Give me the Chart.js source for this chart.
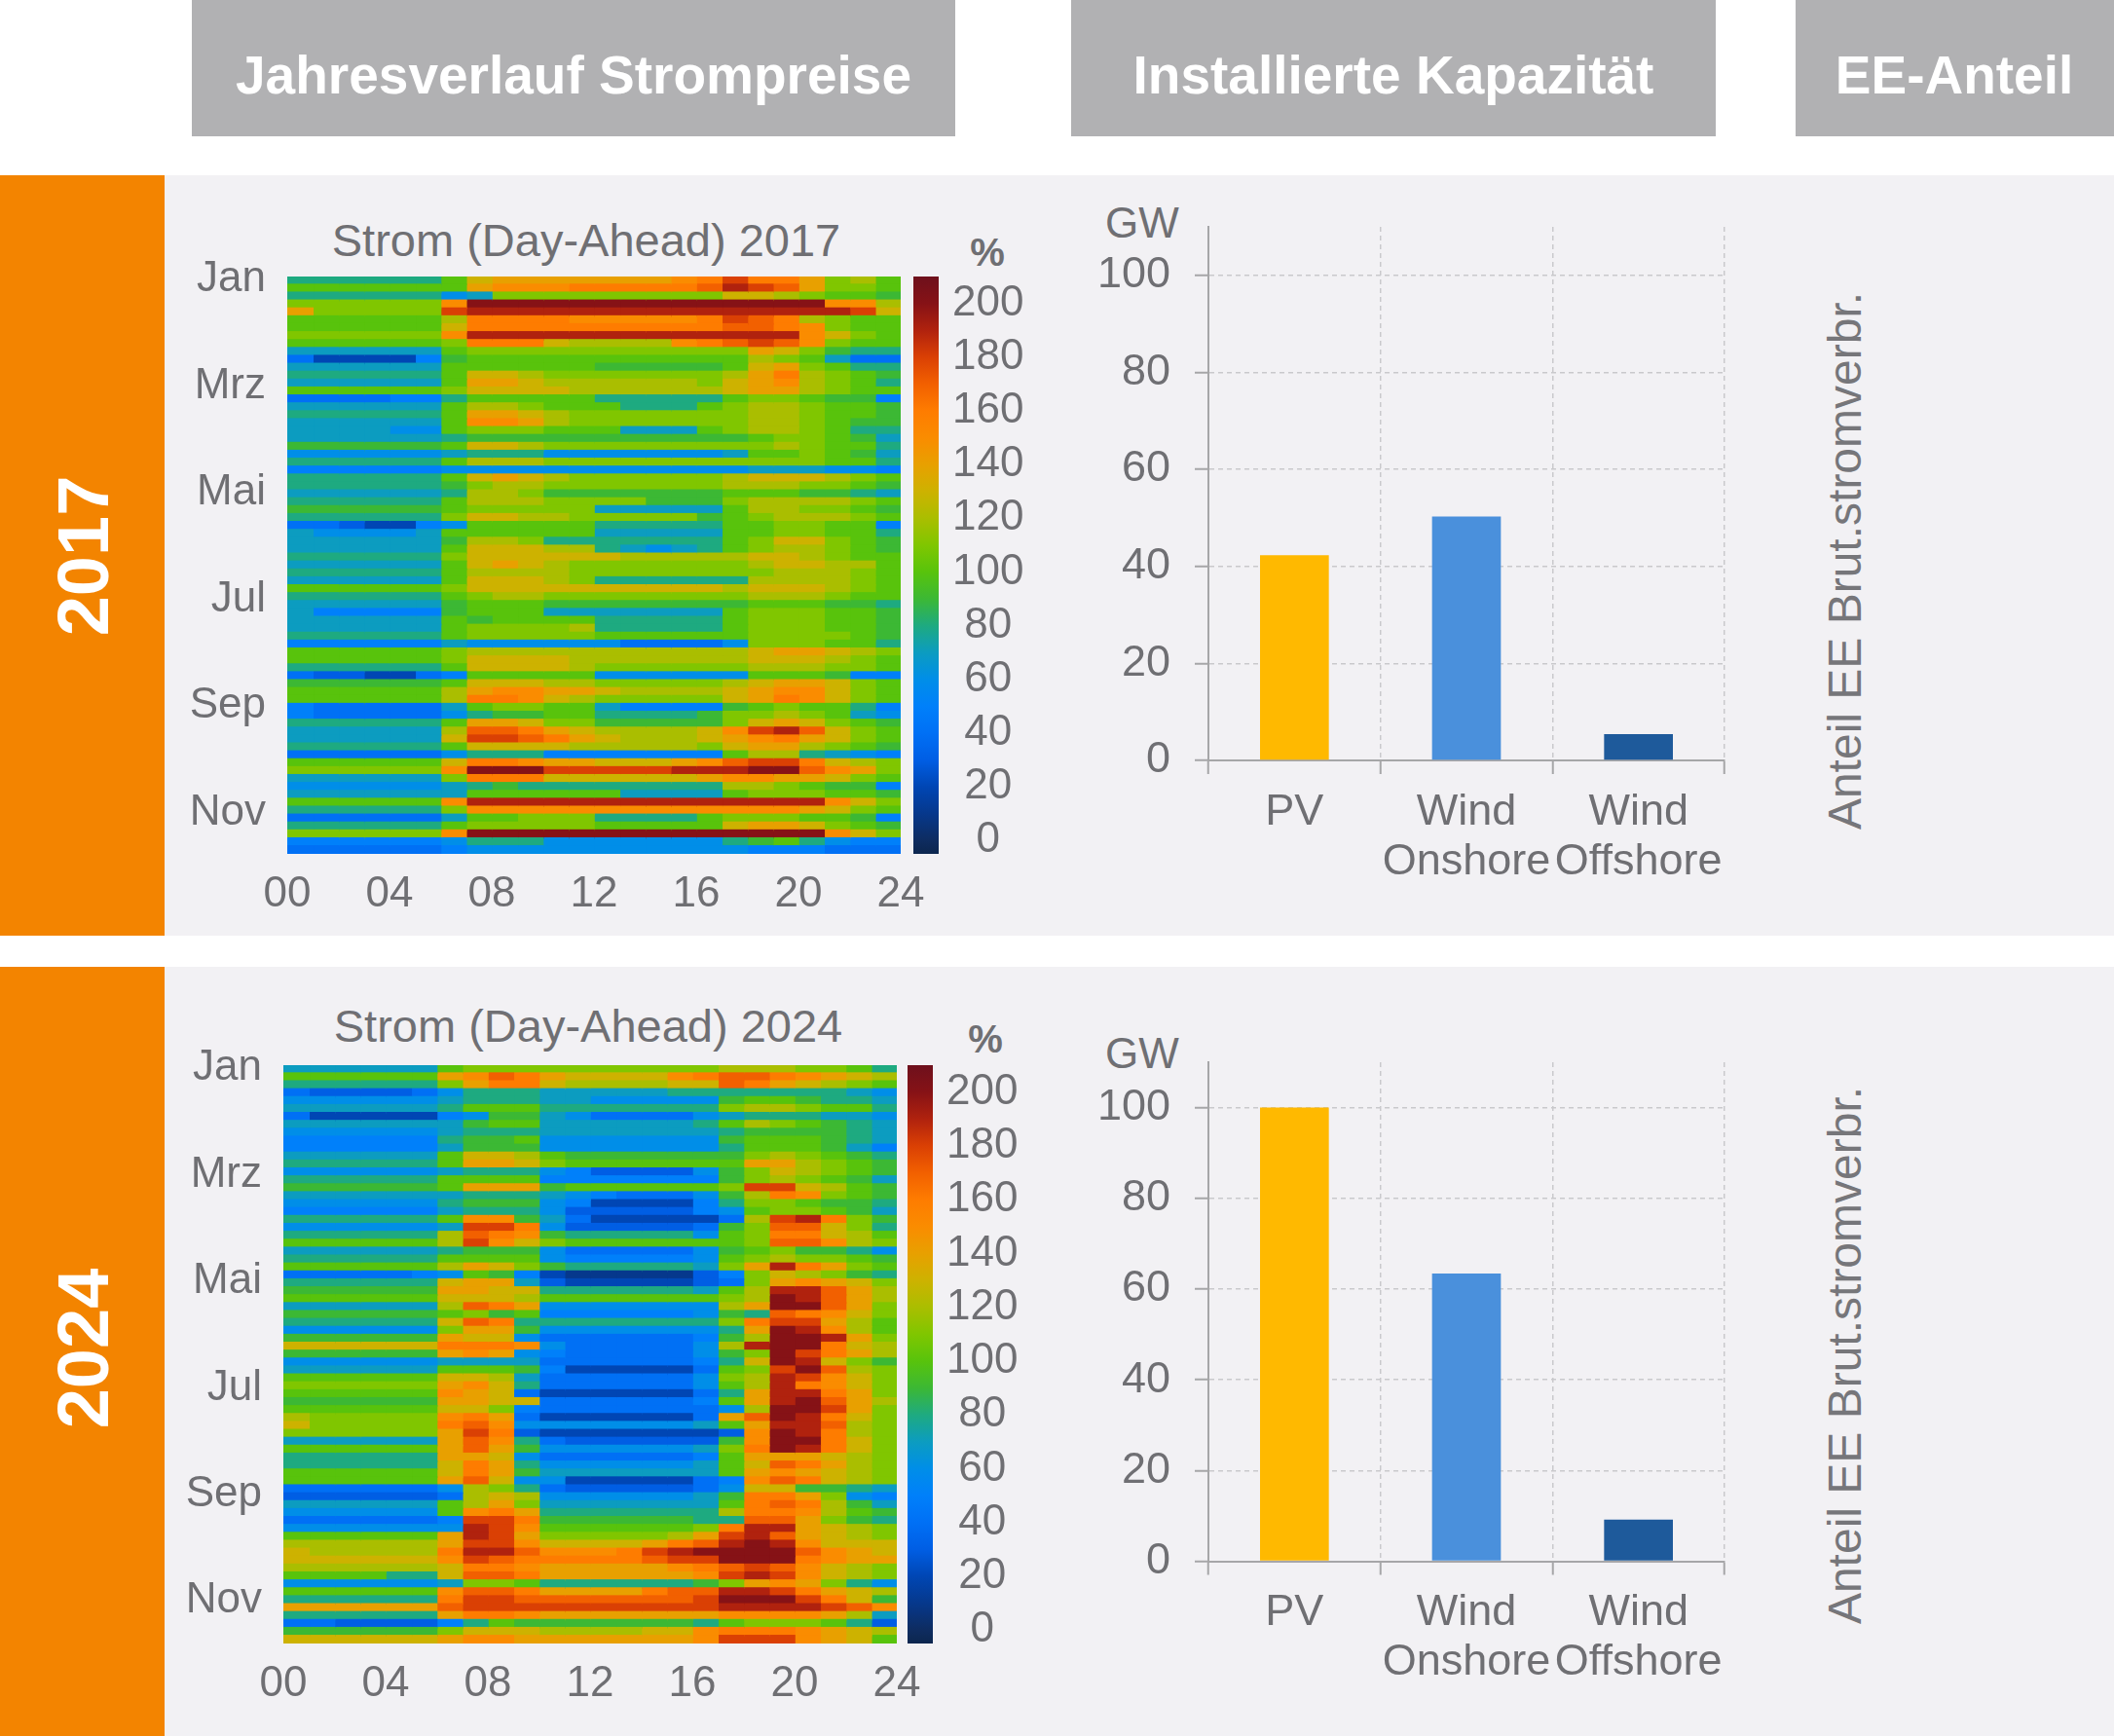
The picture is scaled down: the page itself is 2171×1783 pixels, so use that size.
<!DOCTYPE html>
<html><head><meta charset="utf-8">
<script src="https://cdn.jsdelivr.net/npm/chart.js@4.4.1/dist/chart.umd.min.js"></script>
<style>
html,body{margin:0;padding:0}
body{width:2171px;height:1783px;position:relative;background:#fff;font-family:"Liberation Sans",Arial,sans-serif;overflow:hidden}
.hdr{position:absolute;top:0;height:140px;background:#b1b1b3}
.side{position:absolute;left:0;width:169px;background:#f38400}
.panel{position:absolute;left:169px;width:2002px;background:#f2f1f4}
.txt{position:absolute;white-space:nowrap;transform:translate(-50%,-50%);color:#6f6f73;line-height:1.15}
.rot{transform:translate(-50%,-50%) rotate(-90deg)}
canvas{position:absolute;display:block}
</style>
</head><body>

<div class="hdr" style="left:197px;width:784px"></div>
<div class="hdr" style="left:1100px;width:662px"></div>
<div class="hdr" style="left:1844px;width:327px"></div>
<div class="txt" style="left:589px;top:78px;color:#fff;font-weight:bold;font-size:55px">Jahresverlauf Strompreise</div>
<div class="txt" style="left:1431px;top:78px;color:#fff;font-weight:bold;font-size:55px">Installierte Kapazität</div>
<div class="txt" style="left:2007px;top:78px;color:#fff;font-weight:bold;font-size:55px">EE-Anteil</div>

<div class="side" style="top:180px;height:781px"></div>
<div class="panel" style="top:180px;height:781px"></div>
<div class="side" style="top:993px;height:790px"></div>
<div class="panel" style="top:993px;height:790px"></div>

<div id="year0" class="txt rot" style="left:86px;top:571px;color:#fff;font-weight:bold;font-size:74px"></div>
<div id="year1" class="txt rot" style="left:86px;top:1385px;color:#fff;font-weight:bold;font-size:74px"></div>

<div id="title0" class="txt" style="left:602px;top:247px;font-size:47px"></div>
<div id="title1" class="txt" style="left:604px;top:1054px;font-size:47px"></div>

<div class="txt" style="left:1014px;top:259px;font-size:40px;font-weight:bold">%</div>
<div class="txt" style="left:1012px;top:1067px;font-size:40px;font-weight:bold">%</div>

<div class="txt" style="left:1173px;top:229px;font-size:44px">GW</div>
<div class="txt" style="left:1173px;top:1082px;font-size:44px">GW</div>

<div class="txt rot" style="left:1895px;top:576px;font-size:48px;color:#76767a">Anteil EE Brut.stromverbr.</div>
<div class="txt rot" style="left:1895px;top:1392px;font-size:48px;color:#76767a">Anteil EE Brut.stromverbr.</div>

<canvas id="heat0" width="820" height="720" style="left:150px;top:244px"></canvas>
<canvas id="heat1" width="820" height="721" style="left:146px;top:1054px"></canvas>
<canvas id="cb0" width="136" height="613" style="left:930px;top:274px"></canvas>
<canvas id="cb1" width="136" height="614" style="left:924px;top:1084px"></canvas>
<canvas id="cap0" width="690" height="700" style="left:1100px;top:220px"></canvas>
<canvas id="cap1" width="690" height="662" style="left:1100px;top:1078px"></canvas>

<script>
// ---------- DATA ----------
const YEARS = ['2017', '2024'];
const HEAT_TITLES = ['Strom (Day-Ahead) 2017', 'Strom (Day-Ahead) 2024'];
const DAYS = [365, 366];
// value code per cell: '0'..'9' = 0..90 %, 'A'..'K' = 100..200 %
const CODE = '0123456789ABCDEFGHIJK';
// rows = 5-day periods (top = January), 24 columns = hours 0..23
const HEAT_2017 = [
"888888ADEEEEEEEFGIGGEBCA","AAAAAAAEFFFGGGGGHJIHEBBA","88888867BBBBBBBBBDDCBAA9","BBBBBBFKKKKKKKKKKKKKKFFC",
"EBBBBBIJJJJJJJJJJJJJJJID","AAAAAACGGGGFFFFFGIHGCBAA","AAAAAADGGGGGGGGGGHHGFBAA","BBBBBBFJJJJJJJJJJJJJFDBA",
"AAAAAABGGGDCCCCFGHIHFBAA","777777ABBBBBBBBBBBEDB988","4222259AAAAAAAAAAACBA744","777777AAAAAA99999ADEBA88",
"888888ADDCBBBBBBBCEGCBA9","777777AEEDCCCCCCBDEFCBA8","AAAAAABDDDDCCCCCCDEECBAA","4444558AAAAA88888ABBA995",
"777777ACCBAAA888ABCCBAA9","888888AEEDCBBBBBBBCCBAA9","777777AFFECBBBBBBBCCBA99","777766ABBBAAA777ABCCBA88",
"777777899999999999ABBA97","999999ADDCBBBBBBBBBCBAA8","666666788866666667AABA97","888888ACCCBBBBBBBBBBBAA8",
"555555666666666666777665","888888ADEDCBBBBBBCDDDCBA","8888889BCCBBBBBBBCCCBBA9","7777778CCB9999999AAA9987",
"888888ACCCBBBB999BCCCCBA","999999ABBBBB77777ACCBBA9","888888BDDCCBBBBB9ABCCCBA","4432256AAAAA88888AABBAA5",
"766667AAAAAA77777AABBAA8","7777779CCB8888888ABDDBA9","777777ADDDCC87678ABCCBA9","888888BDDDDDDCCCCCDDCBAA",
"777777ADEDCBBBBBBBCDDCCA","888888ACCCCBBBBBBBBCCCBA","777777ADDDCB888888CCCCBA","AAAAAABDDDDDDDDDDCDDDCBA",
"888888ABCCBBBBBBBBCCCBAA","7777779AAA99999999AAA998","7555559AAA7777777ABBBAA9","777777A9AAAA88888ABBBAA9",
"777777ABBBBC88888ABBBAA9","888888ABBBBBAAAAAABBBBA9","555555766666644446BBBAA8","AAAAAABCCCCCCCCCCCDEEDCB",
"AAAAAABDDDDCCCCCCCDDDCBA","888888ADDDDCBBBBBBCCCBBA","4332245AAAAA666666AAA955","999999ADDDCCBBBBBCDEEDBA",
"AAAAAACEFFEEDCCCCDEFFDBA","AAAAAACGGFDCBBBBBDEGFDBA","5444447ABBAA755559ABAA85","5444446899AA88889BBCBA76",
"888888AEEDBB99999BDEDBA9","777777CHHGEDCCCCDFIJHDBA","777777DIIHGEDCCCDEFGEDBA","888888ADDDDCCCCCBDEECBA9",
"44444468885555555ACC8765","AAAAAADGGFEEDDDEFHIIGDCB","BBBBBBFKKKIIIIIJJJKKHFEB","777777BGGGDDDDDDEFFEEDBA",
"66666678988888888CCBA995","7777777AAAAAA7777ABBBAA9","AAAAAAFJJJJJJJJJJJJJJFDB","888888BFFFFFFFFFFFFFEDBA",
"4444447AABBB8888ABBBAA95","888888ABBBBBAAAAADEEDBA9","BBBBBBFKKKKKKKKKKKKKKFDB","5555556888666666689A8655",
"444444566666666666555444"
];
const HEAT_2024 = [
"777777ABBBBBBBBBBCCCBBA8","AAAAAAEFHGEDDDDFGHHGFEDC","888888BEGGDCCCCDDHGEDCBA","433334688877777888888876",
"666666788877666669AA9887","7777778AAA8888888BCCBAA8","422222569976444467888776","77777779AA7777778ACBA987",
"666666788877777778999987","555555899A66666669AAA987","555555799966666668AAA975","777777ADDCA9999999BCBA98",
"888888AEEDBAAAAAAAEECBA9","666666788865333369BDCBA9","888888AAAA55555559BCBA97","999999AEEE9AAAAAABIIDCA9",
"777777788876544469CGFBA9","666666899965222258BBA998","555555788863333356ABBA97","888888AFF974222224CIJGB9",
"6666667IIG63333349BHHDB8","888888CHGF9888886ABGGDCA","AAAAAACIFDBAAAAAAABHHFCB","777777899964444469AB9986",
"888888AAAA6555556ABCBBA9","AAAAAACEDB9888887BEJGEBA","4444456A9521111135BDCB98","888888DEE732222234BEFEDB",
"999999EEDD8888887ACJJHEC","AAAAAADDDCAAAAAAABCKJHEC","777777CHGE6666666CEKKHEB","999999AB9A555555698HGFDB",
"888888DHG88888888BGIIECA","666666BEE966666668EKJFCA","999999EDD644444459CKKJEB","DDDDDDGGGF6444446CJKKGDC",
"999999EFE654444469BKIGEC","666666777744444458DKJDB9","777777AAA95222224ABIKHCB","AAAAAADDC74444446BCJIFDB",
"BBBBBBEFD84444446ACJGFDB","AAAAAAFED422222248EJJGEB","999999EEDD4444445AEJKHEC","AAAAAADDB544444446CKKIEB",
"CBBBBBFGE42222224EHKJGDB","DBBBBBGHF66666667AEJJHCB","BBBBBBEIG322222223FKJGCB","777777EHF843333339FKKGDB",
"AAAAAAEHE96666667BGKJGDB","888888EED64444445AEEEDCB","888888DGE86666667ADHGECB","AAAAAADGE97777777AEFEDCB",
"AAAAAAEHD662222245FHGDCB","4444446CB843333346DD9987","3333334CDC66666679GGEB65","777777ACEB7777777AGHGC97",
"666666AFGE8888888CGGFCA9","4444445IIG99999988HHEB98","6666666JIFAAAAAABGJJEDCB","AAAAAAEJIEBBBBBCEIJHEDCB",
"CCCCCCEIIFDDDDEGHJKJFDDD","DCCCCCGJJHFFFGIJKKKKHFED","DDDDDDFIHGGGGGHIIKKKGFEE","CCCCCCDGGFEEEEEFGHIHFDCB",
"AAAA88DHHGEEEEEEFIJIFDCB","6666667BBA8888889BEFEB86","AAAAAAFHHGEEEEGHHJJIGEDC","888888GIIHHHHHHHIKKKIGD9",
"EEEEEEHIIIIIIIIIIJJJJIHF","888888EGGFEEEEEEEFFFFEC7","44333358A99999998ABBBA83","999999BDDDCCCCDDFGGGFEDC",
"DDDDDDEFFEEEEEEEFIIIFEDA"
];
const HOUR_TICKS = [0, 4, 8, 12, 16, 20, 24];
const MONTH_LABELS = ['Jan', 'Mrz', 'Mai', 'Jul', 'Sep', 'Nov'];
const CB_TICKS = [0, 20, 40, 60, 80, 100, 120, 140, 160, 180, 200];
const CB_RANGE = [-5, 210];
const CAP_LABELS = [['PV'], ['Wind', 'Onshore'], ['Wind', 'Offshore']];
const CAP_2017 = [42.3, 50.3, 5.4];
const CAP_2024 = [100, 63.4, 9.2];
const CAP_MAX = 110;
const CAP_TICK_STEP = 20;

// ---------- STYLE ----------
const GRAY = '#6f6f73';
const CAP_COLORS = ['#FFB900', '#4A90DC', '#1E5A9B'];
const STOPS = [
 [-5,12,38,78],[0,14,44,96],[10,6,56,140],[20,0,70,180],[30,0,94,228],[40,0,112,245],[50,0,128,250],
 [60,0,142,232],[70,12,156,192],[80,30,170,128],[90,60,184,52],[100,88,195,12],[110,128,198,0],
 [120,170,190,0],[130,205,178,0],[140,232,160,0],[150,250,140,0],[160,254,124,0],[170,242,96,0],
 [180,218,64,4],[190,176,34,14],[200,134,18,22],[210,110,16,28]
];
function colorFor(v) {
  if (v <= STOPS[0][0]) return `rgb(${STOPS[0][1]},${STOPS[0][2]},${STOPS[0][3]})`;
  for (let i = 1; i < STOPS.length; i++) {
    if (v <= STOPS[i][0]) {
      const a = STOPS[i-1], b = STOPS[i], t = (v - a[0]) / (b[0] - a[0]);
      const c = [1,2,3].map(k => Math.round(a[k] + (b[k] - a[k]) * t));
      return `rgb(${c[0]},${c[1]},${c[2]})`;
    }
  }
  const l = STOPS[STOPS.length-1];
  return `rgb(${l[1]},${l[2]},${l[3]})`;
}
function fixSize(prop, size) {
  return s => {
    s[prop] = size;
    s.paddingTop = 0; s.paddingBottom = 0; s.paddingLeft = 0; s.paddingRight = 0;
  };
}

Chart.defaults.font.family = '"Liberation Sans", Arial, sans-serif';
Chart.defaults.color = GRAY;

document.getElementById('year0').textContent = YEARS[0];
document.getElementById('year1').textContent = YEARS[1];
document.getElementById('title0').textContent = HEAT_TITLES[0];
document.getElementById('title1').textContent = HEAT_TITLES[1];

function heatChart(id, rows, days) {
  const vals = rows.map(r => Array.from(r.padEnd(24, r[r.length-1]).slice(0, 24)).map(c => CODE.indexOf(c) * 10));
  const datasets = [];
  for (let h = 0; h < 24; h++) {
    datasets.push({
      xAxisID: 'x', yAxisID: 'y',
      data: vals.map(() => 1),
      backgroundColor: ctx => colorFor(vals[ctx.dataIndex][h]),
      borderWidth: 0, inflateAmount: 0.8,
      barPercentage: 1, categoryPercentage: 1
    });
  }
  new Chart(document.getElementById(id), {
    type: 'bar',
    data: { labels: vals.map((_, i) => i), datasets },
    options: {
      indexAxis: 'y', responsive: false, animation: false, events: [],
      layout: { padding: { top: 40, right: 45, left: 0, bottom: 0 } },
      plugins: { legend: { display: false }, tooltip: { enabled: false } },
      scales: {
        x: {
          type: 'linear', stacked: true, min: 0, max: 24, position: 'bottom', offset: false,
          grid: { display: false, drawTicks: false }, border: { display: false },
          afterBuildTicks: s => { s.ticks = HOUR_TICKS.map(v => ({ value: v })); },
          ticks: { autoSkip: false, maxRotation: 0, padding: 15, color: GRAY, font: { size: 44 },
                   callback: v => String(v).padStart(2, '0') },
          afterFit: fixSize('height', 87)
        },
        y: { type: 'category', stacked: true, display: false },
        yM: {
          type: 'linear', axis: 'y', position: 'left', min: 0, max: days, reverse: true, offset: false,
          grid: { display: false, drawTicks: false, offset: false }, border: { display: false },
          afterBuildTicks: s => { s.ticks = MONTH_LABELS.map((m, i) => ({ value: 2 + i * 67.4 })); },
          ticks: { autoSkip: false, padding: 22, color: GRAY, font: { size: 44 },
                   callback: (v, i) => MONTH_LABELS[i] },
          afterFit: fixSize('width', 145)
        }
      }
    }
  });
}

function colorbar(id) {
  new Chart(document.getElementById(id), {
    type: 'bar',
    data: { labels: ['%'], datasets: [{
      data: [CB_RANGE],
      backgroundColor: ctx => {
        const ch = ctx.chart, ys = ch.scales.y;
        if (!ch.chartArea || !ys) return '#888';
        const g = ch.ctx.createLinearGradient(0, ys.getPixelForValue(CB_RANGE[0]), 0, ys.getPixelForValue(CB_RANGE[1]));
        for (let v = CB_RANGE[0]; v <= CB_RANGE[1]; v += 5) {
          g.addColorStop((v - CB_RANGE[0]) / (CB_RANGE[1] - CB_RANGE[0]), colorFor(v));
        }
        return g;
      },
      borderWidth: 0, barPercentage: 1, categoryPercentage: 1
    }] },
    options: {
      responsive: false, animation: false, events: [],
      layout: { padding: { left: 8, top: 10, bottom: 10, right: 0 } },
      plugins: { legend: { display: false }, tooltip: { enabled: false } },
      scales: {
        x: { display: false },
        y: {
          position: 'right', min: CB_RANGE[0], max: CB_RANGE[1], offset: false,
          afterBuildTicks: s => { s.ticks = CB_TICKS.map(v => ({ value: v })); },
          ticks: { autoSkip: false, crossAlign: 'center', padding: 14, color: GRAY, font: { size: 44 } },
          grid: { display: false, drawTicks: false }, border: { display: false },
          afterFit: fixSize('width', 102)
        }
      }
    }
  });
}

function capChart(id, values, bottomH) {
  new Chart(document.getElementById(id), {
    type: 'bar',
    data: { labels: CAP_LABELS, datasets: [{
      data: values, backgroundColor: CAP_COLORS, borderWidth: 0,
      barPercentage: 0.4, categoryPercentage: 1
    }] },
    options: {
      responsive: false, animation: false, events: [],
      layout: { padding: { top: 13, right: 19, left: 0, bottom: 0 } },
      plugins: { legend: { display: false }, tooltip: { enabled: false } },
      scales: {
        x: {
          grid: { color: '#c9c9cc', lineWidth: 1.5, offset: true, tickLength: 14, tickColor: '#a6a6a8', tickWidth: 2, tickBorderDash: [] },
          border: { display: true, color: '#a6a6a8', width: 2, dash: [5, 4] },
          ticks: { color: GRAY, font: { size: 45, lineHeight: 1.13 }, padding: 14, autoSkip: false, maxRotation: 0 },
          afterFit: fixSize('height', bottomH)
        },
        y: {
          min: 0, max: CAP_MAX,
          ticks: { stepSize: CAP_TICK_STEP, includeBounds: false, color: GRAY, font: { size: 45 }, padding: 25 },
          grid: { color: c => (c.tick && c.tick.value === 0) ? 'rgba(0,0,0,0)' : '#c9c9cc', lineWidth: 1.5,
                  tickLength: 14, tickColor: '#a6a6a8', tickWidth: 2, tickBorderDash: [] },
          border: { display: true, color: '#a6a6a8', width: 2, dash: [5, 4] },
          afterFit: fixSize('width', 141)
        }
      }
    }
  });
}

heatChart('heat0', HEAT_2017, DAYS[0]);
heatChart('heat1', HEAT_2024, DAYS[1]);
colorbar('cb0');
colorbar('cb1');
capChart('cap0', CAP_2017, 139);
capChart('cap1', CAP_2024, 136.5);
</script>
</body></html>
